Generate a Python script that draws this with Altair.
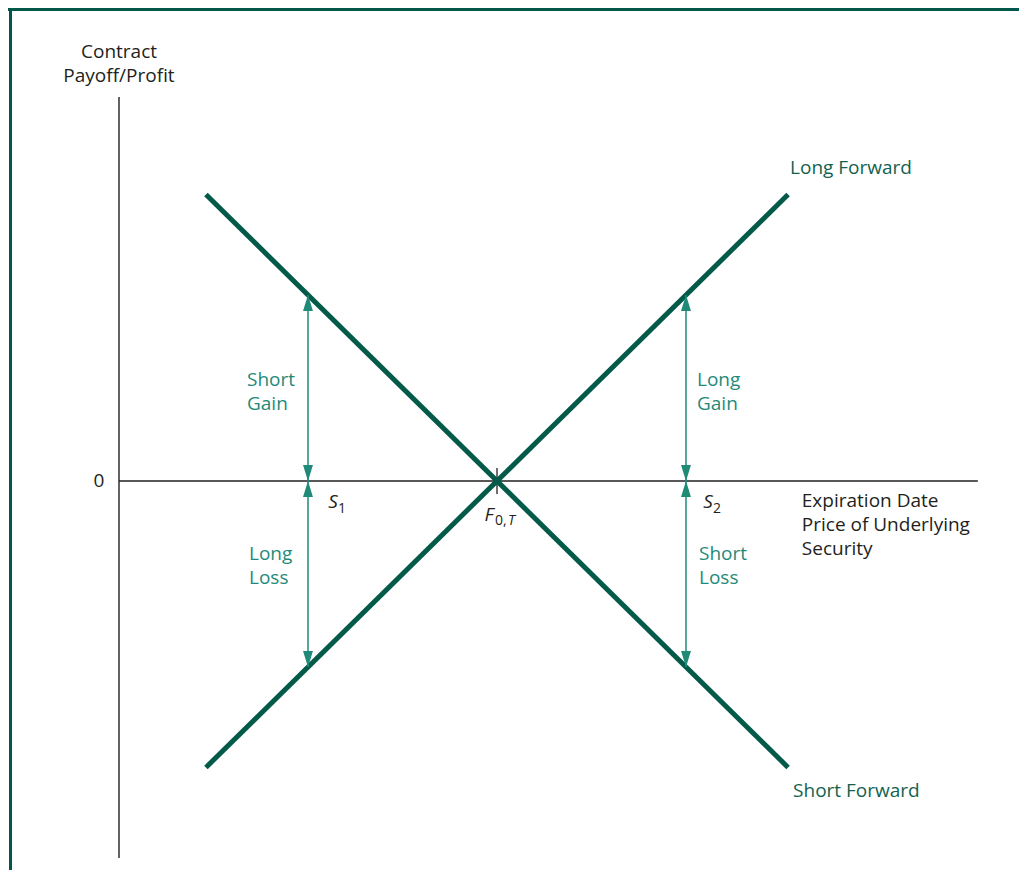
import altair as alt
import pandas as pd

# ---------------- data ----------------
F_PRICE = 50
S_PRICES = [25, 75]
line_price = [11.5, 88.5]
long_payoff = [-38.5, 38.5]
short_payoff = [38.5, -38.5]

arrow_price = [25, 25, 75, 75]
arrow_from = [0, 0, 0, 0]
arrow_to = [25, -25, 25, -25]

axis_y_extent = [-50.67, 51.6]
axis_x_extent = [0, 113.6]

# ---------------- layout / style ----------------
W, H = 1011, 862
XS, YS = 7.56, 7.44          # px per unit
X_DOM = [F_PRICE - 489 / XS, F_PRICE + 522 / XS]
Y_DOM = [-(H + 8 - 481) / YS, (481 - 8) / YS]

DARK = "#045a48"
TEAL = "#1f8a78"
LABEL_GREEN = "#13624f"
INK = "#231f20"
FONT = "Open Sans"
FS = 19

xs = alt.Scale(domain=X_DOM, nice=False, zero=False)
ys = alt.Scale(domain=Y_DOM, nice=False, zero=False)


def X(field="x"):
    return alt.X(f"{field}:Q", scale=xs, axis=None)


def Y(field="y"):
    return alt.Y(f"{field}:Q", scale=ys, axis=None)


layers = []

# frame decoration
frame = pd.DataFrame({"k": [0]})
layers.append(alt.Chart(frame).mark_rect(color="#00574a").encode(
    x=alt.value(0), x2=alt.value(W), y=alt.value(0), y2=alt.value(3)))
layers.append(alt.Chart(frame).mark_rect(color="#00574a").encode(
    x=alt.value(1), x2=alt.value(4), y=alt.value(0), y2=alt.value(H)))

# axes
ax = pd.DataFrame({"x": [0], "y": [axis_y_extent[0]], "y2": [axis_y_extent[1]]})
layers.append(alt.Chart(ax).mark_rule(color=INK, strokeWidth=1.4).encode(
    x=X(), y=Y(), y2="y2:Q"))
axx = pd.DataFrame({"x": [axis_x_extent[0]], "x2": [axis_x_extent[1]], "y": [0]})
layers.append(alt.Chart(axx).mark_rule(color=INK, strokeWidth=1.4).encode(
    x=X(), x2="x2:Q", y=Y()))
tick = pd.DataFrame({"x": [F_PRICE], "y": [0]})
layers.append(alt.Chart(tick).mark_tick(color=INK, orient="vertical", size=26,
                                        thickness=1.3, opacity=1).encode(x=X(), y=Y()))

# forward lines
fwd = pd.DataFrame({
    "x": line_price * 2,
    "y": long_payoff + short_payoff,
    "s": ["Long Forward"] * 2 + ["Short Forward"] * 2,
})
layers.append(alt.Chart(fwd).mark_line(color=DARK, strokeWidth=5, strokeCap="butt").encode(
    x=X(), y=Y(), detail="s:N"))

# arrows
arr = pd.DataFrame({"x": arrow_price, "y": arrow_from, "y2": arrow_to})
layers.append(alt.Chart(arr).mark_rule(color=TEAL, strokeWidth=1.5).encode(
    x=X(), y=Y(), y2="y2:Q"))
heads = pd.DataFrame({
    "x": arrow_price * 2,
    "y": arrow_from + arrow_to,
})
heads["up"] = [a > b for a, b in zip(heads["y"], list(arrow_to) + list(arrow_from))]
UP = "M0,0L0.62,2L-0.62,2Z"
DOWN = "M0,0L0.62,-2L-0.62,-2Z"
for flag, shape in [(True, UP), (False, DOWN)]:
    sub = heads[heads["up"] == flag]
    layers.append(alt.Chart(sub).mark_point(shape=shape, filled=True, size=256,
                                            color=TEAL, opacity=1, strokeWidth=0).encode(
        x=X(), y=Y()))


def label(text, x, y, dx, dy, color=INK, align="left", size=FS, style="normal"):
    d = pd.DataFrame({"x": [x], "y": [y]})
    return alt.Chart(d).mark_text(text=text, dx=dx, dy=dy, align=align, baseline="middle",
                                  font=FONT, fontSize=size, fontStyle=style, color=color,
                                  lineHeight=24).encode(x=X(), y=Y())


S1, S2 = S_PRICES
layers += [
    label(["Contract", "Payoff/Profit"], 0, axis_y_extent[1], 0, -45, align="center"),
    label("0", 0, 0, -20, 0, align="center"),
    label(["Short", "Gain"], S1, 12.5, -61, -8, color=TEAL),
    label(["Long", "Gain"], S2, 12.5, 11, -8, color=TEAL),
    label(["Long", "Loss"], S1, -12.5, -59, -20, color=TEAL),
    label(["Short", "Loss"], S2, -12.5, 13, -20, color=TEAL),
    label("Long Forward", line_price[1], long_payoff[1], 2, -27, color=LABEL_GREEN),
    label("Short Forward", line_price[1], short_payoff[1], 5, 24, color=LABEL_GREEN),
    label(["Expiration Date", "Price of Underlying", "Security"], axis_x_extent[1], 0,
          -176, 20),
    label("S", S1, 0, 25, 21, align="center", style="italic"),
    label("1", S1, 0, 34, 28, align="center", size=14),
    label("S", S2, 0, 22, 21, align="center", style="italic"),
    label("2", S2, 0, 31, 28, align="center", size=14),
    label("F", F_PRICE, 0, -8, 34, align="center", style="italic"),
    label("0,", F_PRICE, 0, -2, 40, size=14),
    label("T", F_PRICE, 0, 11, 40, size=14, style="italic"),
]

chart = alt.layer(*layers).properties(
    width=W, height=H, padding=0, autosize="none", background="white"
).configure_view(stroke=None)

chart.save("out.html", embed_options={"renderer": "svg", "actions": False})
